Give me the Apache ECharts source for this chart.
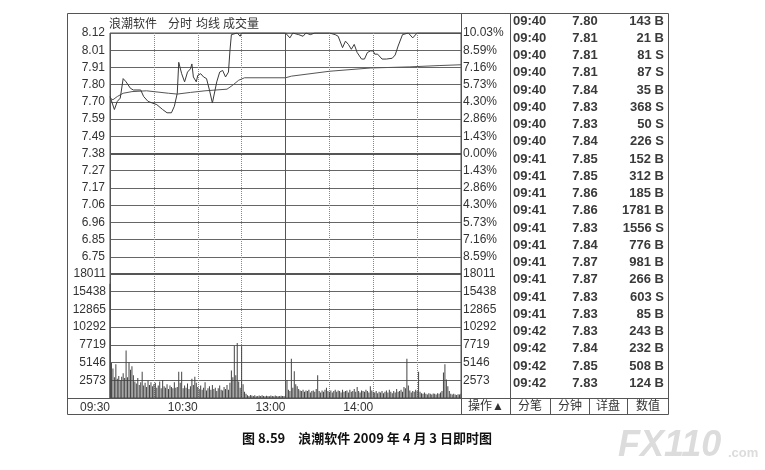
<!DOCTYPE html>
<html><head><meta charset="utf-8">
<script src="https://cdn.jsdelivr.net/npm/echarts@6/dist/echarts.min.js"></script>
<style>html,body{margin:0;padding:0;background:#fff}#c{width:765px;height:470px}</style>
</head><body><div id="c"></div>
<script>
// ---- data ----
const timeTicks = ['09:30', '', '10:30', '', '13:00', '', '14:00', '', ''];
const priceTicks = ['', '6.75', '6.85', '6.96', '7.06', '7.17', '7.27', '7.38', '7.49', '7.59', '7.70', '7.80', '7.91', '8.01', '8.12'];
const pctTicks = ['', '8.59%', '7.16%', '5.73%', '4.30%', '2.86%', '1.43%', '0.00%', '1.43%', '2.86%', '4.30%', '5.73%', '7.16%', '8.59%', '10.03%'];
const volTicks = ['', '2573', '5146', '7719', '10292', '12865', '15438', '18011'];
const priceMin = 6.64, priceMax = 8.12, preClose = 7.38;
const volMax = 18011, volStep = 2573;

// [minute from 09:30, price]
const priceLine = [[0,7.73],[3,7.65],[5,7.70],[7,7.72],[9,7.84],[11,7.82],[14,7.78],[16,7.77],[21,7.77],[23,7.73],[26,7.70],[32,7.68],[36,7.65],[39,7.63],[42,7.63],[44,7.67],[46,7.75],[47,7.94],[49,7.87],[51,7.82],[53,7.88],[55,7.90],[56,7.93],[57,7.85],[59,7.82],[60,7.86],[62,7.87],[64,7.85],[66,7.84],[68,7.77],[70,7.69],[71,7.70],[73,7.82],[75,7.88],[77,7.89],[79,7.85],[81,7.88],[82,8.01],[83,8.11],[84,8.12],[87,8.12],[89,8.10],[90,8.12],[120,8.12],[123,8.09],[125,8.12],[129,8.11],[132,8.10],[134,8.12],[137,8.11],[140,8.12],[150,8.12],[154,8.11],[156,8.10],[159,8.03],[161,8.07],[163,8.05],[165,8.02],[167,8.05],[169,8.00],[172,7.96],[174,7.96],[176,8.00],[178,8.01],[180,8.01],[181,7.99],[183,7.99],[186,7.96],[189,7.96],[193,7.965],[195,7.985],[197,8.04],[200,8.11],[201,8.12],[204,8.12],[207,8.09],[208,8.09],[210,8.12],[240,8.12]];
const avgLine = [[0,7.72],[2,7.71],[5,7.73],[9,7.75],[15,7.76],[25,7.765],[40,7.75],[46,7.745],[55,7.755],[65,7.765],[80,7.775],[84,7.80],[88,7.83],[92,7.845],[120,7.845],[124,7.855],[150,7.885],[178,7.905],[205,7.912],[225,7.92],[240,7.925]];
// one value per minute, index 0 = 09:30
const volume = [16600,
 5100,4300,3000,4900,2800,3200,2600,3100,3600,2900,6900,3000,5200,4100,4600,3300,2400,2100,2900,1900,2300,3800,1800,2200,1600,2500,1900,2300,1700,2000,
 2200,1500,1800,2400,1400,2600,1700,1500,2000,1300,1800,1600,1400,2300,1500,
 1600,3800,2200,3800,1400,1800,1500,2100,1300,1700,
 2800,1900,3100,2200,1600,1300,1800,1200,1500,2300,1100,1400,1700,1200,1900,
 1300,1500,1000,1400,1800,1200,1100,1600,1300,1900,1200,2200,
 4000,3000,7600,3300,8000,2400,1500,7500,2000,
 900,600,400,300,450,350,300,400,250,300,350,280,400,300,260,320,300,250,380,300,270,350,300,260,300,340,280,300,350,
 2600,1200,1000,5700,1500,3900,2000,1700,1300,1100,1000,1200,900,1100,1000,
 1200,800,1000,1100,900,1300,3300,1000,800,1100,900,1200,1500,1000,900,1100,800,1000,1200,900,1100,1000,800,1200,900,
 1000,1100,800,1200,900,1000,1300,900,1600,1000,800,1100,1000,900,1200,1000,800,1700,1100,900,
 800,1000,700,900,800,1000,700,900,1100,800,1200,900,700,1000,800,1300,900,1000,1200,900,
 1600,1400,5700,1800,1100,800,1000,900,1200,1000,3800,900,700,600,800,
 600,500,700,600,500,650,600,500,700,600,800,1000,
 3700,4900,2700,1700,1000,600,500,600,500,450,550,500,600];

const tradeTimes = ['09:40','09:40','09:40','09:40','09:40','09:40','09:40','09:40','09:41','09:41','09:41','09:41','09:41','09:41','09:41','09:41','09:41','09:41','09:42','09:42','09:42','09:42'];
const tradePrices = ['7.80','7.81','7.81','7.81','7.84','7.83','7.83','7.84','7.85','7.85','7.86','7.86','7.83','7.84','7.87','7.87','7.83','7.83','7.83','7.84','7.85','7.83'];
const tradeVols = [143,21,81,87,35,368,50,226,152,312,185,1781,1556,776,981,266,603,85,243,232,508,124];
const tradeSides = ['B','B','S','S','B','S','S','S','B','B','B','B','S','B','B','B','S','B','B','B','B','B'];
const tabs = ['操作▲', '分笔', '分钟', '详盘', '数值'];
const header = ['浪潮软件', '分时', '均线', '成交量'];
const caption = '图 8.59　浪潮软件 2009 年 4 月 3 日即时图';

// ---- chart ----
const FONT = "'Liberation Sans', Arial, 'Noto Sans CJK SC', sans-serif";
const TXT = '#333';
const GRIDC = '#666';
const priceStep = (priceMax - priceMin) / 14;
const idxOf = (v, min, step) => Math.round((v - min) / step);

const chart = echarts.init(document.getElementById('c'), null, {renderer: 'canvas'});

function xAxisDef(grid, interval, type, showLabel) {
  return {
    gridIndex: grid, type: 'value', min: 0, max: 240, interval: interval,
    axisLine: {show: false}, axisTick: {show: false},
    axisLabel: showLabel ? {
      show: true, color: TXT, fontSize: 12, fontFamily: FONT, align: 'right', margin: 4,
      formatter: v => timeTicks[Math.round(v / 30)] || ''
    } : {show: false},
    splitLine: {show: true, lineStyle: {color: type === 'solid' ? '#555' : '#888', width: 1, type: type}}
  };
}

const graphics = [];
// frames
graphics.push({type: 'rect', shape: {x: 67.5, y: 13.5, width: 601, height: 401}, style: {fill: 'none', stroke: '#555', lineWidth: 1}, z: 100});
const vline = (x, y1, y2) => graphics.push({type: 'line', shape: {x1: x, y1: y1, x2: x, y2: y2}, style: {stroke: '#555', lineWidth: 1}, z: 100});
const hline = (y, x1, x2) => graphics.push({type: 'line', shape: {x1: x1, y1: y, x2: x2, y2: y}, style: {stroke: '#555', lineWidth: 1}, z: 100});
vline(461.5, 13, 415);
vline(510.5, 13, 415);
hline(398.5, 67, 669);
[550.5, 589.5, 627.5].forEach(x => vline(x, 398, 415));
// tabs
const tabCenters = [486, 530, 570, 608, 648];
tabs.forEach((t, i) => graphics.push({type: 'text', x: tabCenters[i], y: 407, style: {text: t, fill: TXT, font: `12px ${FONT}`, textAlign: 'center', textVerticalAlign: 'middle', align: 'center', verticalAlign: 'middle'}}));
// header
const headX = [109, 168, 196, 223];
header.forEach((t, i) => graphics.push({type: 'text', x: headX[i], y: 23, style: {text: t, fill: TXT, font: `12px 'Noto Sans CJK SC', sans-serif`, textAlign: 'left', textVerticalAlign: 'middle', align: 'left', verticalAlign: 'middle'}}));
// trade table
tradeTimes.forEach((t, i) => {
  const y = 21 + i * 17.25;
  const f = `bold 13px ${FONT}`;
  graphics.push({type: 'text', x: 513, y: y, style: {text: t, fill: '#3a3a3a', font: f, textAlign: 'left', textVerticalAlign: 'middle', align: 'left', verticalAlign: 'middle'}});
  graphics.push({type: 'text', x: 585, y: y, style: {text: tradePrices[i], fill: '#3a3a3a', font: f, textAlign: 'center', textVerticalAlign: 'middle', align: 'center', verticalAlign: 'middle'}});
  graphics.push({type: 'text', x: 664, y: y, style: {text: tradeVols[i] + ' ' + tradeSides[i], fill: '#3a3a3a', font: f, textAlign: 'right', textVerticalAlign: 'middle', align: 'right', verticalAlign: 'middle'}});
});
// caption
graphics.push({type: 'text', x: 367, y: 438, style: {text: caption, fill: '#111', font: `bold 13px 'Noto Sans CJK SC', sans-serif`, textAlign: 'center', textVerticalAlign: 'middle', align: 'center', verticalAlign: 'middle'}});
// watermark
graphics.push({type: 'text', x: 618, y: 446, style: {text: 'FX110', fill: '#dcdcdc', font: `italic bold 36px ${FONT}`, textAlign: 'left', textVerticalAlign: 'middle', align: 'left', verticalAlign: 'middle'}});
graphics.push({type: 'text', x: 728, y: 453, style: {text: '.com', fill: '#dcdcdc', font: `bold 13px ${FONT}`, textAlign: 'left', textVerticalAlign: 'middle', align: 'left', verticalAlign: 'middle'}});

const option = {
  animation: false,
  backgroundColor: '#fff',
  grid: [
    {left: 110, top: 33, width: 351, height: 241, show: true, borderColor: '#555', borderWidth: 1},
    {left: 110, top: 274, width: 351, height: 124, show: true, borderColor: '#555', borderWidth: 1}
  ],
  xAxis: [
    xAxisDef(0, 30, 'dotted', false),
    xAxisDef(0, 120, 'solid', false),
    xAxisDef(1, 30, 'dotted', true),
    xAxisDef(1, 120, 'solid', false)
  ],
  yAxis: [
    {gridIndex: 0, type: 'value', min: priceMin, max: priceMax, interval: priceStep, position: 'left',
     axisLine: {show: false}, axisTick: {show: false},
     axisLabel: {color: TXT, fontSize: 12, fontFamily: FONT, margin: 5, formatter: v => priceTicks[idxOf(v, priceMin, priceStep)] || ''},
     splitLine: {show: true, lineStyle: {color: GRIDC, width: 1}}},
    {gridIndex: 0, type: 'value', min: priceMin, max: priceMax, interval: priceStep, position: 'right',
     axisLine: {show: false}, axisTick: {show: false},
     axisLabel: {color: TXT, fontSize: 12, fontFamily: FONT, margin: 2, formatter: v => pctTicks[idxOf(v, priceMin, priceStep)] || ''},
     splitLine: {show: false}},
    {gridIndex: 1, type: 'value', min: 0, max: volMax, interval: volStep, position: 'left',
     axisLine: {show: false}, axisTick: {show: false},
     axisLabel: {color: TXT, fontSize: 12, fontFamily: FONT, margin: 4, formatter: v => volTicks[idxOf(v, 0, volStep)] || ''},
     splitLine: {show: true, lineStyle: {color: GRIDC, width: 1}}},
    {gridIndex: 1, type: 'value', min: 0, max: volMax, interval: volStep, position: 'right',
     axisLine: {show: false}, axisTick: {show: false},
     axisLabel: {color: TXT, fontSize: 12, fontFamily: FONT, margin: 2, formatter: v => volTicks[idxOf(v, 0, volStep)] || ''},
     splitLine: {show: false}}
  ],
  series: [
    {type: 'line', xAxisIndex: 0, yAxisIndex: 0, data: avgLine, symbol: 'none', lineStyle: {color: '#555', width: 1}, z: 3},
    {type: 'line', xAxisIndex: 0, yAxisIndex: 0, data: priceLine, symbol: 'none', lineStyle: {color: '#3a3a3a', width: 1}, z: 4,
     markLine: {silent: true, symbol: 'none', label: {show: false}, lineStyle: {color: '#555', width: 2, type: 'solid'}, data: [{yAxis: preClose}]}},
    {type: 'bar', xAxisIndex: 2, yAxisIndex: 2, data: volume.map((v, i) => [i, v]), barWidth: 1, itemStyle: {color: '#444'}},
    {type: 'line', xAxisIndex: 2, yAxisIndex: 2, data: [], markLine: {silent: true, symbol: 'none', label: {show: false}, lineStyle: {color: '#555', width: 2, type: 'solid'}, data: [{yAxis: volMax}]}}
  ],
  graphic: graphics
};
chart.setOption(option);
</script></body></html>
